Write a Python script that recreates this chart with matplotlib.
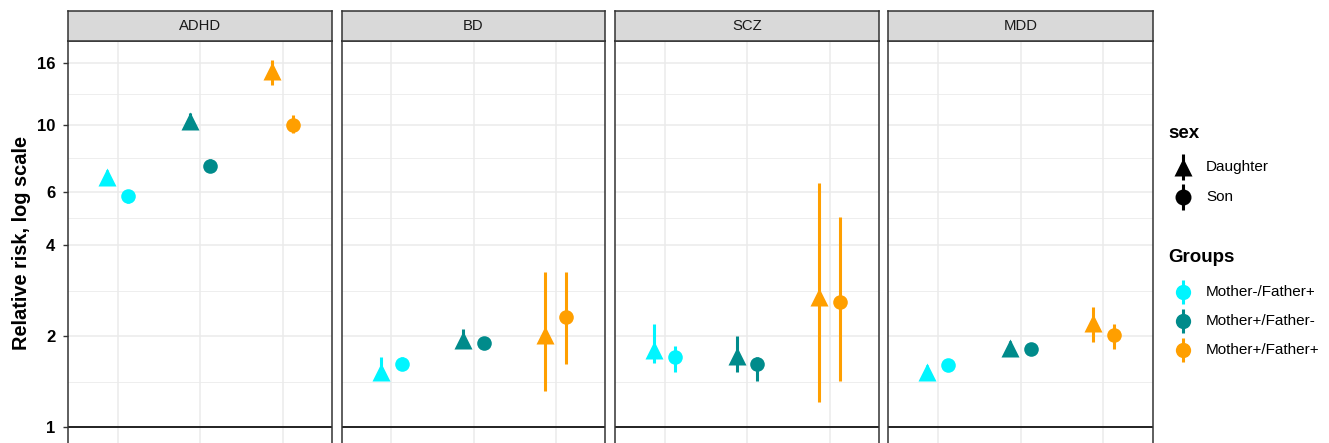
import matplotlib
matplotlib.use("Agg")
import matplotlib.pyplot as plt
import numpy as np

plt.rcParams['font.family'] = ['Liberation Sans', 'DejaVu Sans']

# ---------------- data ----------------
disorders = ["ADHD", "BD", "SCZ", "MDD"]
groups = ["Mother-/Father+", "Mother+/Father-", "Mother+/Father+"]
sexes = ["Daughter", "Son"]

# estimates per disorder: [group0, group1, group2]
est_daughter = {
    "ADHD": [6.7, 10.3, 15.0],
    "BD":   [1.52, 1.94, 2.01],
    "SCZ":  [1.80, 1.72, 2.69],
    "MDD":  [1.52, 1.83, 2.21],
}
est_son = {
    "ADHD": [5.8, 7.3, 10.0],
    "BD":   [1.62, 1.90, 2.31],
    "SCZ":  [1.70, 1.62, 2.59],
    "MDD":  [1.60, 1.81, 2.01],
}
low_daughter = {
    "ADHD": [6.3, 9.8, 13.5],
    "BD":   [1.43, 1.82, 1.32],
    "SCZ":  [1.63, 1.52, 1.21],
    "MDD":  [1.45, 1.75, 1.91],
}
low_son = {
    "ADHD": [5.5, 7.0, 9.4],
    "BD":   [1.55, 1.82, 1.62],
    "SCZ":  [1.52, 1.42, 1.42],
    "MDD":  [1.54, 1.74, 1.81],
}
up_daughter = {
    "ADHD": [7.1, 10.9, 16.4],
    "BD":   [1.70, 2.11, 3.25],
    "SCZ":  [2.19, 2.00, 6.4],
    "MDD":  [1.60, 1.92, 2.49],
}
up_son = {
    "ADHD": [6.1, 7.7, 10.8],
    "BD":   [1.70, 1.98, 3.25],
    "SCZ":  [1.85, 1.70, 4.95],
    "MDD":  [1.67, 1.89, 2.19],
}

y_breaks = [1, 2, 4, 6, 10, 16]
y_title = "Relative risk, log scale"

# ---------------- styling ----------------
colors = ["#00F5FF", "#008B8B", "#FF9F00"]
markers = {"Daughter": "^", "Son": "o"}
msizes = {"Daughter": 12.5, "Son": 10.5}
dodge = {"Daughter": -0.125, "Son": 0.125}

W, H = 1329, 443
fig = plt.figure(figsize=(W / 100, H / 100), dpi=100)

panel_x = [(68, 332), (342, 605), (615, 879), (888, 1153)]
top_px, bot_px = 41, 462
strip_top = 11
px_per_log2 = 91.0
y_one_px = 427
ylo = 2 ** (-(bot_px - y_one_px) / px_per_log2)
yhi = 2 ** ((y_one_px - top_px) / px_per_log2)

maj = np.log(np.array(y_breaks, dtype=float))
minor_vals = list(np.exp((maj[:-1] + maj[1:]) / 2))

grid_c = "#EBEBEB"
border_c = "#333333"

for i, d in enumerate(disorders):
    x0, x1 = panel_x[i]
    ax = fig.add_axes([x0 / W, 1 - bot_px / H, (x1 - x0) / W, (bot_px - top_px) / H])
    ax.set_yscale("log")
    ax.set_ylim(ylo, yhi)
    ax.set_xlim(-0.6, 2.6)
    # grid
    for v in y_breaks:
        ax.axhline(v, color=grid_c, lw=1.1, zorder=0)
    for v in minor_vals:
        ax.axhline(v, color=grid_c, lw=0.6, zorder=0)
    for k in range(len(groups)):
        ax.axvline(k, color=grid_c, lw=1.1, zorder=0)
    ax.axhline(1, color="#222222", lw=1.4, zorder=1)

    for s in sexes:
        est = est_daughter[d] if s == "Daughter" else est_son[d]
        lo = low_daughter[d] if s == "Daughter" else low_son[d]
        hi = up_daughter[d] if s == "Daughter" else up_son[d]
        for g in range(len(groups)):
            xx = g + dodge[s]
            ax.plot([xx, xx], [lo[g], hi[g]], color=colors[g], lw=2.2,
                    solid_capstyle="butt", zorder=3)
            ax.plot([xx], [est[g]], marker=markers[s], ms=msizes[s],
                    color=colors[g], mec="none", zorder=4, linestyle="none")

    ax.set_xticks([])
    ax.minorticks_off()
    if i == 0:
        ax.set_yticks(y_breaks)
        ax.set_yticklabels([str(v) for v in y_breaks], fontsize=12,
                           fontweight="bold", color="black")
        ax.tick_params(axis="y", length=3.6, width=1.0, color=border_c, pad=5.5)
    else:
        ax.set_yticks([])
    for sp in ax.spines.values():
        sp.set_color(border_c)
        sp.set_linewidth(1.1)

    # strip
    sax = fig.add_axes([x0 / W, 1 - top_px / H, (x1 - x0) / W, (top_px - strip_top) / H])
    sax.set_facecolor("#D9D9D9")
    sax.set_xticks([])
    sax.set_yticks([])
    for sp in sax.spines.values():
        sp.set_color(border_c)
        sp.set_linewidth(1.1)
    sax.text(0.5, 0.5, d, ha="center", va="center", fontsize=10.7,
             color="#1A1A1A", transform=sax.transAxes)

# ---------------- legend & y title (pixel overlay) ----------------
lax = fig.add_axes([0, 0, 1, 1], facecolor="none")
lax.set_xlim(0, W)
lax.set_ylim(H, 0)
lax.axis("off")

lax.text(22, 243, y_title, fontsize=14.4, fontweight="bold", rotation=90,
         ha="center", va="center")

key_x = 1183
text_x = 1206
lax.text(1168, 133, "sex", fontsize=13.5, fontweight="bold", va="center", ha="left")
sex_y = [167, 197]
for s, yy in zip(sexes, sex_y):
    lax.plot([key_x, key_x], [yy - 13, yy + 13], color="black", lw=2.2, solid_capstyle="butt")
    lax.plot([key_x], [yy], marker=markers[s], ms=msizes[s] + 1, color="black", mec="none")
    lax.text(text_x, yy, s, fontsize=11, va="center", ha="left")

lax.text(1168, 258, "Groups", fontsize=13.5, fontweight="bold", va="center", ha="left")
grp_y = [292, 321, 350]
for g, yy in zip(range(len(groups)), grp_y):
    lax.plot([key_x, key_x], [yy - 12, yy + 12], color=colors[g], lw=2.2, solid_capstyle="butt")
    lax.plot([key_x], [yy], marker="o", ms=11, color=colors[g], mec="none")
    lax.text(text_x, yy, groups[g], fontsize=11, va="center", ha="left")

fig.savefig("out.png", dpi=100)
